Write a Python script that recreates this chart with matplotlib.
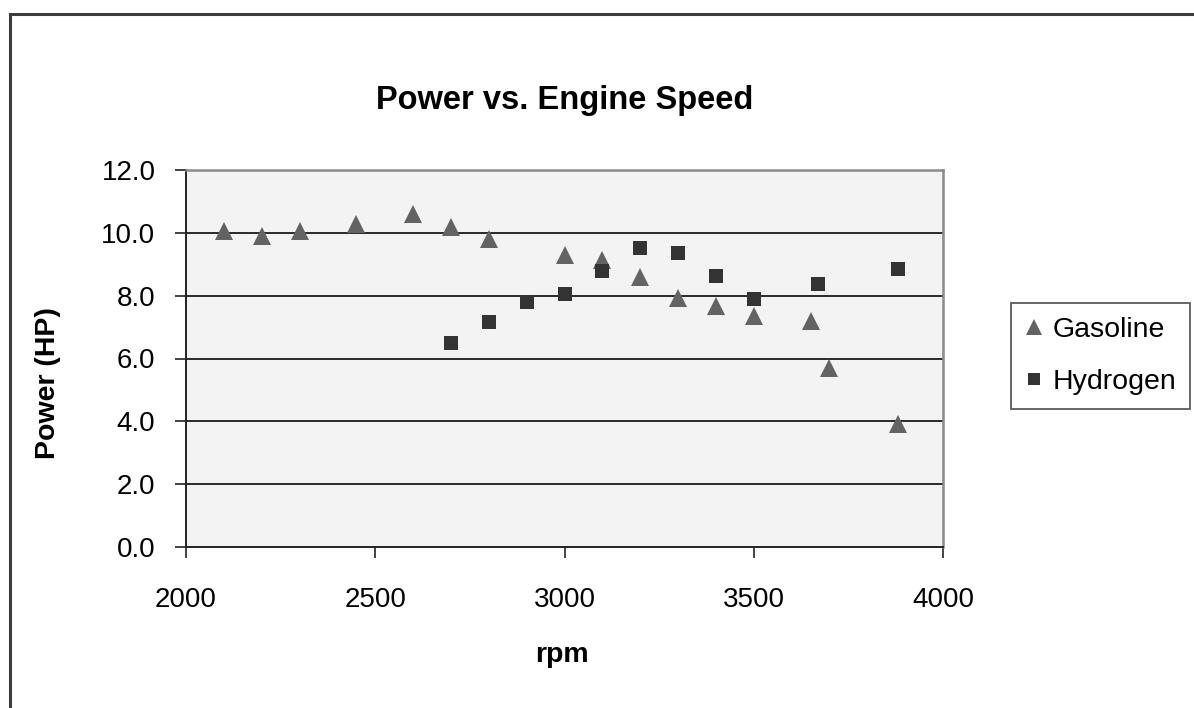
import numpy as np
import matplotlib.pyplot as plt
from matplotlib.patches import Rectangle

plt.rcParams['font.family'] = ['Liberation Sans', 'DejaVu Sans']

# gasoline runs
gas_rpm = [2100, 2200, 2300, 2450, 2600, 2700, 2800, 3000, 3100, 3200,
           3300, 3400, 3500, 3650, 3700, 3880]
gas_hp = [10.05, 9.9, 10.05, 10.27, 10.6, 10.2, 9.8, 9.3, 9.15, 8.58,
          7.92, 7.68, 7.36, 7.18, 5.7, 3.9]

# hydrogen runs
h2_rpm = [2700, 2800, 2900, 3000, 3100, 3200, 3300, 3400, 3500, 3670, 3880]
h2_hp = [6.5, 7.16, 7.8, 8.05, 8.79, 9.52, 9.35, 8.62, 7.88, 8.38, 8.86]

x_ticks = [2000, 2500, 3000, 3500, 4000]
y_ticks = [0, 2, 4, 6, 8, 10, 12]

W, H = 1194, 708
fig = plt.figure(figsize=(W / 100, H / 100), dpi=100)
ax = fig.add_axes([186 / W, 1 - 547 / H, (943 - 186) / W, (547 - 170) / H])
ax.set_facecolor('#f3f3f3')

# outer chart frame, runs off the page on the right and bottom
fig.patches.append(Rectangle((10 / W, -0.1), 1.2, 1 - 14 / H + 0.1,
                             transform=fig.transFigure, fill=False,
                             edgecolor='#3c3c3c', linewidth=2.2))

for y in y_ticks[1:-1]:
    ax.axhline(y, color='#2a2a2a', linewidth=1.4, zorder=1)

ax.plot(gas_rpm, gas_hp, '^', color='#636363', markersize=12.5,
        markeredgewidth=0, label='Gasoline', zorder=3)
ax.plot(h2_rpm, h2_hp, 's', color='#333333', markersize=10,
        markeredgewidth=0, label='Hydrogen', zorder=3)

ax.set_xlim(2000, 4000)
ax.set_ylim(0, 12)
ax.set_xticks(x_ticks)
ax.set_yticks(y_ticks)
ax.set_yticklabels(['%.1f' % v for v in y_ticks])
ax.tick_params(axis='both', labelsize=20, length=8, width=1.2, color='#222222')
ax.tick_params(axis='x', pad=21)
ax.tick_params(axis='y', pad=14)

ax.spines['left'].set_color('#222222')
ax.spines['bottom'].set_color('#222222')
ax.spines['left'].set_linewidth(1.4)
ax.spines['bottom'].set_linewidth(1.4)
ax.spines['top'].set_color('#8a8a8a')
ax.spines['right'].set_color('#8a8a8a')
ax.spines['top'].set_linewidth(1.8)
ax.spines['right'].set_linewidth(1.8)

fig.text(565 / W, 1 - 100 / H, 'Power vs. Engine Speed', fontsize=23.5,
         fontweight='bold', ha='center', va='center')
fig.text(562 / W, 1 - 655 / H, 'rpm', fontsize=20.5, fontweight='bold',
         ha='center', va='center')
fig.text(48 / W, 1 - 383 / H, 'Power (HP)', fontsize=20.5, fontweight='bold',
         ha='center', va='center', rotation=90)

leg = fig.legend(loc='center left', bbox_to_anchor=(1011 / W, 1 - 356 / H),
                 fontsize=20.5, frameon=True, fancybox=False, markerscale=0.9,
                 handlelength=0.6, handletextpad=0.35, labelspacing=0.9,
                 borderpad=0.5, borderaxespad=0)
leg.get_frame().set_edgecolor('#333333')
leg.get_frame().set_linewidth(1.3)

fig.savefig('out.png', dpi=100)
